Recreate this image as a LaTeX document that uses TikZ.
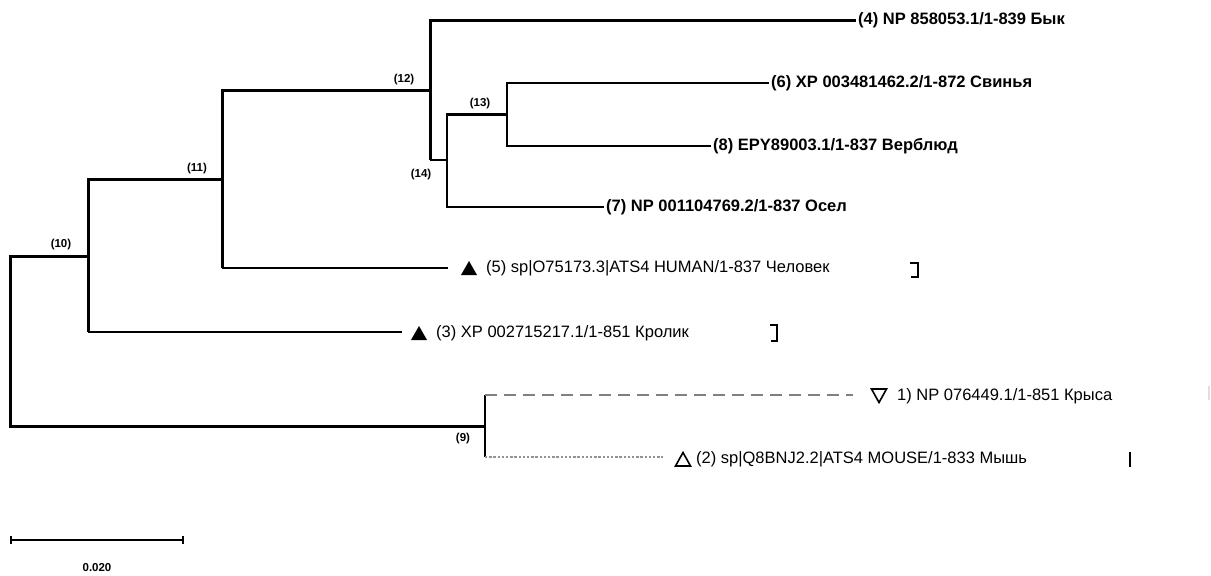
\documentclass[tikz,border=0pt]{standalone}
\usepackage{fontspec}
\setmainfont{Liberation Sans}
\begin{document}
\begin{tikzpicture}[x=1pt,y=-1pt,
  thickbr/.style={line width=3pt},
  medbr/.style={line width=2.4pt},
  thinbr/.style={line width=1.6pt},
  leafb/.style={anchor=west, inner sep=0pt, font=\fontsize{16.5}{18}\selectfont\bfseries},
  leaf/.style={anchor=west, inner sep=0pt, font=\fontsize{16.5}{18}\selectfont},
  nlab/.style={inner sep=0pt, font=\fontsize{11.5}{12}\selectfont\bfseries},
  sidemark/.style={line width=1.5pt},
  uptri/.pic={\fill (-8,7) -- (8,7) -- (0,-7) -- cycle;},
  upopen/.pic={\draw[line width=1.6pt, line join=miter] (-7.5,7) -- (7.5,7) -- (0,-6.5) -- cycle;},
  downopen/.pic={\draw[line width=1.6pt, line join=miter] (-7.5,-7) -- (7.5,-7) -- (0,6.5) -- cycle;}
]
\useasboundingbox (0,0) rectangle (1211,576);

% internal nodes
\coordinate (R) at (10,340.5);
\coordinate (N10) at (88,256);
\coordinate (N9) at (485,426);
\coordinate (N9a) at (485,395);
\coordinate (N9b) at (485,457);
\coordinate (N11) at (222,179);
\coordinate (N12) at (430,90);
\coordinate (N14) at (447,160);
\coordinate (N13) at (507,114.5);

% leaf line ends
\coordinate (E4) at (856,20);
\coordinate (E6) at (769,83);
\coordinate (E8) at (711,146);
\coordinate (E7) at (604,207);
\coordinate (E5) at (448,268);
\coordinate (E3) at (402,332);
\coordinate (E1) at (853,395);
\coordinate (E2) at (663,457);

% leaf labels
\node[leafb] (L4) at (858,20) {(4) NP 858053.1/1-839 Бык};
\node[leafb] (L6) at (771,83) {(6) XP 003481462.2/1-872 Свинья};
\node[leafb] (L8) at (713,146) {(8) EPY89003.1/1-837 Верблюд};
\node[leafb] (L7) at (606,207) {(7) NP 001104769.2/1-837 Осел};
\node[leaf] (L5) at (486,268) {(5) sp|O75173.3|ATS4 HUMAN/1-837 Человек};
\node[leaf] (L3) at (436,333) {(3) XP 002715217.1/1-851 Кролик};
\node[leaf] (L1) at (897,396) {1) NP 076449.1/1-851 Крыса};
\node[leaf] (L2) at (696,459) {(2) sp|Q8BNJ2.2|ATS4 MOUSE/1-833 Мышь};

% markers
\pic at (469,268) {uptri};
\pic at (419,333) {uptri};
\pic at (879,396) {downopen};
\pic at (683,459) {upopen};

% branches
\draw[thickbr] (R) |- (N10);
\draw[thickbr] (R) |- (N9);
\draw[thickbr] (N10) |- (N11);
\draw[thickbr] (N10) -- (N10 |- E3);
\draw[medbr] (N10 |- E3) -- (E3);
\draw[thickbr] (N11) |- (N12);
\draw[thickbr] (N11) -- (N11 |- E5);
\draw[thinbr] (N11 |- E5) -- (E5);
\draw[thickbr] (N12) |- (E4);
\draw[thickbr] (N12) -- (N12 |- N14);
\draw[medbr] (N12 |- N14) -- (N14);
\draw[medbr] (N14) |- (N13);
\draw[medbr] (N14) |- (E7);
\draw[medbr] (N13) |- (E6);
\draw[medbr] (N13) |- (E8);
\draw[medbr] (N9a) -- (N9b);
\draw[line width=2pt, gray, dash pattern=on 12pt off 7pt] (N9a) -- (E1);
\draw[line width=2.4pt, gray!85, dash pattern=on 2.4pt off 1.8pt] (N9b) -- (E2);

% node labels
\node[nlab] (l12) at (404,80) {(12)};
\node[nlab] (l13) at (480,104) {(13)};
\node[nlab] (l14) at (421,175) {(14)};
\node[nlab] (l11) at (197,169) {(11)};
\node[nlab] (l10) at (61,245) {(10)};
\node[nlab] (l9) at (463,439) {(9)};

% side marks
\draw[sidemark] (910,263) -- (918,263) -- (918,277) -- (911,277);
\draw[sidemark] (770,325) -- (777,325) -- (777,341) -- (771,341);
\draw[sidemark] (1130,452) -- (1130,467);
\draw[line width=2pt, gray!25] (1209,386) -- (1209,400);

% scale bar
\coordinate (S1) at (11,540);
\coordinate (S2) at (183,540);
\draw[line width=1.5pt] (S1) -- (S2);
\draw[line width=2.5pt] ([yshift=-4pt]S1) -- ([yshift=4pt]S1);
\draw[line width=2.5pt] ([yshift=-4pt]S2) -- ([yshift=4pt]S2);
\node[nlab] (sc) at (97,568) {0.020};
\end{tikzpicture}
\end{document}
